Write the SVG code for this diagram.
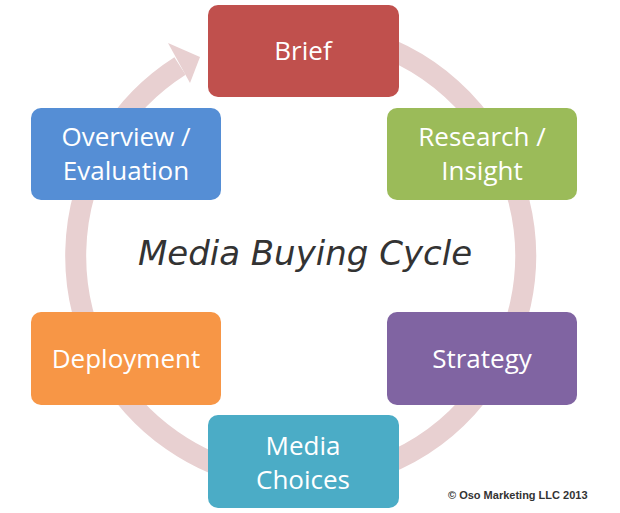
<svg xmlns="http://www.w3.org/2000/svg" width="620" height="513" viewBox="0 0 620 513">
<style>
.t{font-family:"Open Sans","Liberation Sans",sans-serif;font-size:26px;fill:#fff;text-anchor:middle}
</style>
<rect width="620" height="513" fill="#fff"/>
<g id="connectors">
<path d="M180,66 A225,225 0 1 0 260,34.6" fill="none" stroke="#e8d0d1" stroke-width="21"/>
<polygon points="200,57 168,43 190,83" fill="#e8d0d1"/>
</g>
<g id="brief"><rect x="208" y="5" width="191" height="92" rx="10" fill="#c0504d"/><text class="t" x="303" y="60">Brief</text></g>
<g id="research"><rect x="387" y="108" width="190" height="92" rx="10" fill="#9bbb59"/><text class="t" x="482" y="146">Research /</text><text class="t" x="482" y="180">Insight</text></g>
<g id="strategy"><rect x="387" y="312" width="190" height="93" rx="10" fill="#8064a2"/><text class="t" x="482" y="368">Strategy</text></g>
<g id="media"><rect x="208" y="415" width="191" height="93" rx="10" fill="#4bacc6"/><text class="t" x="303" y="455">Media</text><text class="t" x="303" y="489">Choices</text></g>
<g id="deployment"><rect x="31" y="312" width="190" height="93" rx="10" fill="#f79646"/><text class="t" x="126" y="368">Deployment</text></g>
<g id="overview"><rect x="31" y="108" width="190" height="92" rx="10" fill="#558ed5"/><text class="t" x="126" y="146">Overview /</text><text class="t" x="126" y="180">Evaluation</text></g>
<text x="305" y="265" font-family="'DejaVu Sans',sans-serif" font-style="italic" font-size="34" fill="#333" text-anchor="middle">Media Buying Cycle</text>
<text x="448" y="499" font-family="'Liberation Sans',sans-serif" font-size="11" font-weight="bold" fill="#333">© Oso Marketing LLC 2013</text>
</svg>
